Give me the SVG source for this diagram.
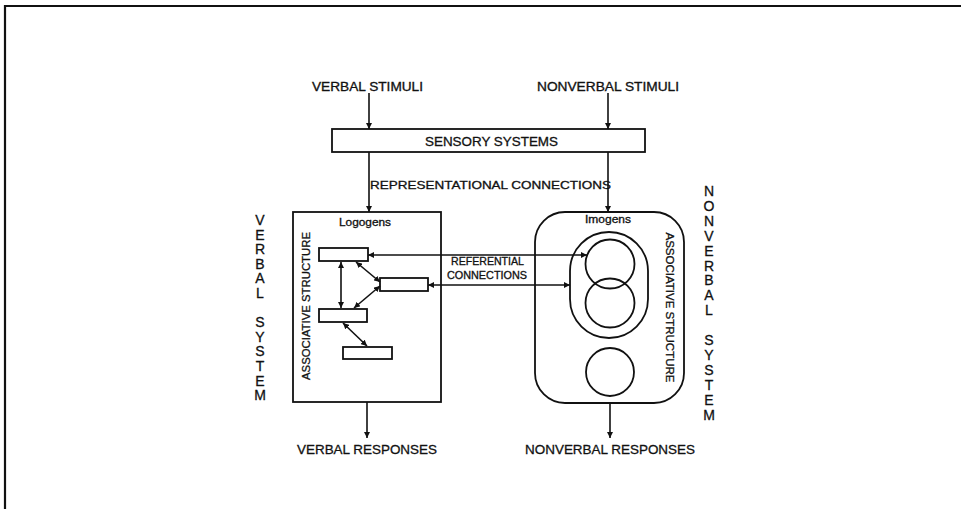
<svg xmlns="http://www.w3.org/2000/svg" width="961" height="509" viewBox="0 0 961 509">
<style>
text{font-family:"Liberation Sans","DejaVu Sans",Arial,sans-serif;fill:#111;stroke:#111;stroke-width:0.3}
.box{fill:none;stroke:#111;stroke-width:1.8}
.ln{fill:none;stroke:#111;stroke-width:1.6}
.lbl{font-size:12px}
.sm{font-size:10px}
.vl{font-size:14px;text-anchor:middle}
</style>
<defs>
<marker id="ah" viewBox="0 0 10 10" refX="10" refY="5" markerWidth="6" markerHeight="6" markerUnits="userSpaceOnUse" orient="auto-start-reverse">
<path d="M0,0 L10,5 L0,10 z" fill="#111"/>
</marker>
</defs>
<rect width="961" height="509" fill="#fff"/>
<path d="M5,509 V6 H961" fill="none" stroke="#111" stroke-width="2.2"/>

<g id="verbal-stimuli"><text class="lbl" x="312" y="91" textLength="111" lengthAdjust="spacingAndGlyphs">VERBAL STIMULI</text></g>
<g id="nonverbal-stimuli"><text class="lbl" x="537" y="91" textLength="142" lengthAdjust="spacingAndGlyphs">NONVERBAL STIMULI</text></g>

<g id="sensory-systems">
<rect class="box" x="332" y="129" width="313" height="23"/>
<text x="425" y="146" font-size="13" textLength="133" lengthAdjust="spacingAndGlyphs">SENSORY SYSTEMS</text>
</g>

<g id="representational-label"><text x="370" y="189" font-size="11" textLength="241" lengthAdjust="spacingAndGlyphs">REPRESENTATIONAL CONNECTIONS</text></g>

<g id="verbal-system">
<rect class="box" x="293" y="212" width="148" height="190"/>
<text class="sm" x="365" y="226" text-anchor="middle" textLength="52" lengthAdjust="spacingAndGlyphs">Logogens</text>
<text transform="translate(310,306) rotate(-90)" x="0" y="0" font-size="11" text-anchor="middle" textLength="148" lengthAdjust="spacingAndGlyphs">ASSOCIATIVE STRUCTURE</text>
<rect id="logogen1" class="box" x="319" y="248" width="49" height="13"/>
<rect id="logogen2" class="box" x="380" y="278" width="48" height="13"/>
<rect id="logogen3" class="box" x="319" y="309" width="48" height="13"/>
<rect id="logogen4" class="box" x="343" y="347" width="49" height="12"/>
</g>

<g id="verbal-system-label">
<text class="vl" x="260" y="225">V</text>
<text class="vl" x="260" y="239.6">E</text>
<text class="vl" x="260" y="254.2">R</text>
<text class="vl" x="260" y="268.8">B</text>
<text class="vl" x="260" y="283.4">A</text>
<text class="vl" x="260" y="298">L</text>
<text class="vl" x="260" y="327.2">S</text>
<text class="vl" x="260" y="341.8">Y</text>
<text class="vl" x="260" y="356.4">S</text>
<text class="vl" x="260" y="371">T</text>
<text class="vl" x="260" y="385.6">E</text>
<text class="vl" x="260" y="400.2">M</text>
</g>

<g id="nonverbal-system">
<rect class="box" x="535" y="212" width="149" height="191" rx="30" ry="30"/>
<text class="sm" x="608" y="223" text-anchor="middle" textLength="46" lengthAdjust="spacingAndGlyphs">Imogens</text>
<rect class="box" x="570" y="232" width="78" height="106" rx="39" ry="39"/>
<circle id="imagen1" class="box" cx="610" cy="264" r="24.5"/>
<circle id="imagen2" class="box" cx="610" cy="303" r="24.5"/>
<circle id="imagen3" class="box" cx="610" cy="372" r="24"/>
<text transform="translate(666,307.5) rotate(90)" x="0" y="0" font-size="11" text-anchor="middle" textLength="150" lengthAdjust="spacingAndGlyphs">ASSOCIATIVE STRUCTURE</text>
</g>

<g id="nonverbal-system-label">
<text class="vl" x="709" y="196">N</text>
<text class="vl" x="709" y="210.9">O</text>
<text class="vl" x="709" y="225.8">N</text>
<text class="vl" x="709" y="240.7">V</text>
<text class="vl" x="709" y="255.6">E</text>
<text class="vl" x="709" y="270.5">R</text>
<text class="vl" x="709" y="285.4">B</text>
<text class="vl" x="709" y="300.3">A</text>
<text class="vl" x="709" y="315.2">L</text>
<text class="vl" x="709" y="345">S</text>
<text class="vl" x="709" y="359.9">Y</text>
<text class="vl" x="709" y="374.8">S</text>
<text class="vl" x="709" y="389.7">T</text>
<text class="vl" x="709" y="404.6">E</text>
<text class="vl" x="709" y="419.5">M</text>
</g>

<g id="referential-label">
<text class="sm" x="451" y="265" textLength="73" lengthAdjust="spacingAndGlyphs">REFERENTIAL</text>
<text class="sm" x="447" y="279" textLength="80" lengthAdjust="spacingAndGlyphs">CONNECTIONS</text>
</g>

<g id="verbal-responses"><text x="297" y="454" font-size="13.5" textLength="140" lengthAdjust="spacingAndGlyphs">VERBAL RESPONSES</text></g>
<g id="nonverbal-responses"><text x="525" y="454" font-size="13.5" textLength="170" lengthAdjust="spacingAndGlyphs">NONVERBAL RESPONSES</text></g>

<g id="connectors">
<line class="ln" x1="369" y1="93" x2="369" y2="129" marker-end="url(#ah)"/>
<line class="ln" x1="608" y1="93" x2="608" y2="129" marker-end="url(#ah)"/>
<line class="ln" x1="369" y1="152" x2="369" y2="212" marker-end="url(#ah)"/>
<line class="ln" x1="608" y1="152" x2="608" y2="212" marker-end="url(#ah)"/>
<line class="ln" x1="368" y1="255" x2="587" y2="255" marker-start="url(#ah)" marker-end="url(#ah)"/>
<line class="ln" x1="428" y1="285" x2="570" y2="285" marker-start="url(#ah)" marker-end="url(#ah)"/>
<line class="ln" x1="341" y1="262" x2="341" y2="308" marker-start="url(#ah)" marker-end="url(#ah)"/>
<line class="ln" x1="356" y1="262" x2="380" y2="282" marker-start="url(#ah)" marker-end="url(#ah)"/>
<line class="ln" x1="380" y1="286" x2="354" y2="308" marker-start="url(#ah)" marker-end="url(#ah)"/>
<line class="ln" x1="343" y1="323" x2="367" y2="346" marker-start="url(#ah)" marker-end="url(#ah)"/>
<line class="ln" x1="367" y1="402" x2="367" y2="438" marker-end="url(#ah)"/>
<line class="ln" x1="610" y1="403" x2="610" y2="438" marker-end="url(#ah)"/>
</g>
</svg>
